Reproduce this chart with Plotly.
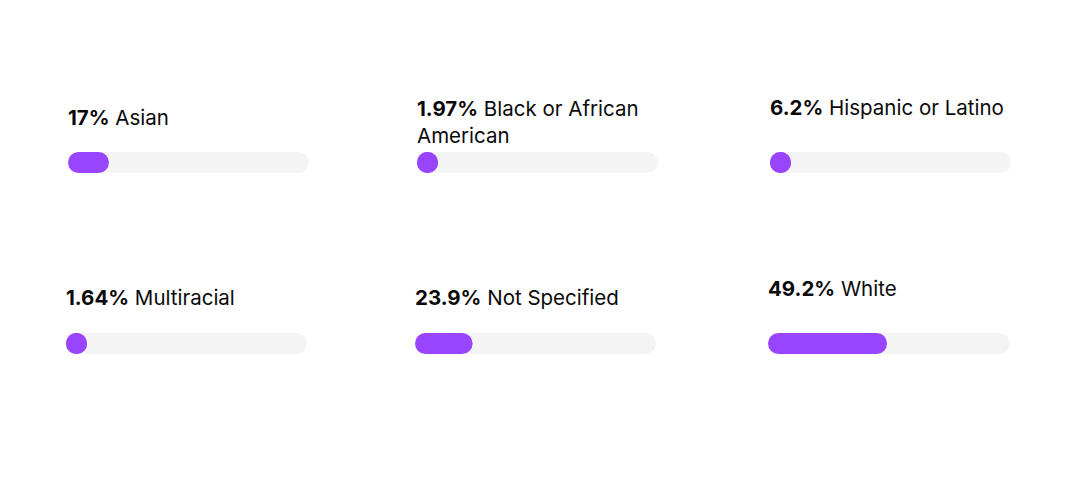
import plotly.graph_objects as go

# ---- data ----
categories = ["Asian", "Black or African<br>American", "Hispanic or Latino",
              "Multiracial", "Not Specified", "White"]
values = [17, 1.97, 6.2, 1.64, 23.9, 49.2]

# ---- layout (pixel boxes of each track: left, right, top, bottom) ----
W, H = 1080, 500
OFF = 8  # page body margin
tracks = [(68, 309, 152, 173), (417, 658, 152, 173), (770, 1011, 152, 173),
          (66, 307, 333, 354), (415, 656, 333, 354), (768, 1010, 333, 354)]
label_y = [117, 107.5, 106.5, 297, 297, 288]  # visual centre of first text line

PURPLE = "#9945FF"
TRACK = "#F4F4F4"

fig = go.Figure()
layout = dict(
    width=W, height=H, margin=dict(l=0, r=0, t=0, b=0),
    paper_bgcolor="white", plot_bgcolor="white",
    showlegend=False, hovermode=False,
)
annotations = []
for i, (cat, v) in enumerate(zip(categories, values)):
    l, r, t, b = [p - OFF for p in tracks[i]]
    n = "" if i == 0 else str(i + 1)
    xa, ya = "x" + n, "y" + n
    layout["xaxis" + n] = dict(domain=[l / W, r / W], range=[0, 100], visible=False,
                               anchor=ya, fixedrange=True)
    layout["yaxis" + n] = dict(domain=[1 - b / H, 1 - t / H], range=[-1, 1],
                               visible=False, anchor=xa, fixedrange=True)
    thick = b - t
    rad = (thick / 2) / (r - l) * 100  # cap radius in axis units
    end = max(v, 2 * rad)
    # track pill
    fig.add_trace(go.Scatter(x=[rad, 100 - rad], y=[0, 0], mode="lines+markers",
                             line=dict(color=TRACK, width=thick),
                             marker=dict(color=TRACK, size=thick, line=dict(width=0)),
                             cliponaxis=False, xaxis=xa, yaxis=ya))
    # filled pill
    fig.add_trace(go.Scatter(x=[rad, end - rad], y=[0, 0], mode="lines+markers",
                             line=dict(color=PURPLE, width=thick),
                             marker=dict(color=PURPLE, size=thick, line=dict(width=0)),
                             cliponaxis=False, xaxis=xa, yaxis=ya))
    annotations.append(dict(
        text=f"<b>{v:g}%</b> {cat}", xref="paper", yref="paper",
        x=(l - 2) / W, xanchor="left",
        y=1 - (label_y[i] - OFF - 14) / H, yanchor="top", align="left",
        showarrow=False, font=dict(family="Inter", size=20.5, color="#0A0A0A"),
    ))
layout["annotations"] = annotations
fig.update_layout(**layout)
fig.write_html("out.html", config={"displayModeBar": False})
